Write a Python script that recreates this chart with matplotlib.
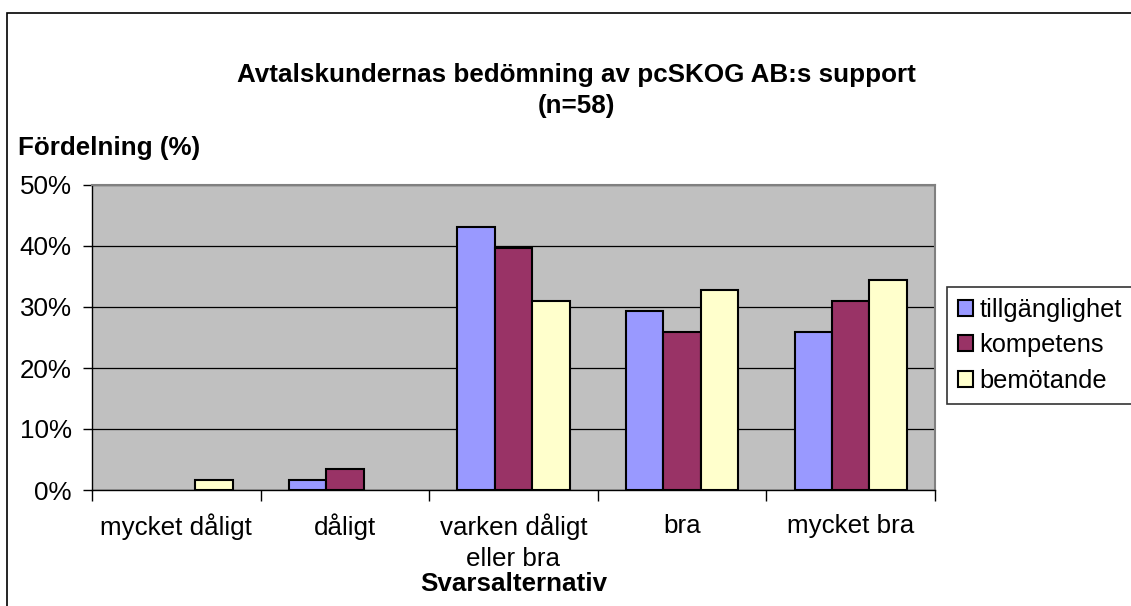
import matplotlib
matplotlib.use("Agg")
import matplotlib.pyplot as plt
import numpy as np
from matplotlib.patches import Rectangle, Patch

plt.rcParams['font.family'] = ['Liberation Sans', 'DejaVu Sans']

categories = ["mycket dåligt", "dåligt", "varken dåligt\neller bra", "bra", "mycket bra"]
series_names = ["tillgänglighet", "kompetens", "bemötande"]
tillganglighet = [0.0, 1.72, 43.10, 29.31, 25.86]
kompetens = [0.0, 3.45, 39.66, 25.86, 31.03]
bemotande = [1.72, 0.0, 31.03, 32.76, 34.48]
yticks = [0, 10, 20, 30, 40, 50]
ytick_labels = ["0%", "10%", "20%", "30%", "40%", "50%"]
colors = ["#9999FF", "#993366", "#FFFFCC"]

W, H = 1131, 606
FS = 18.7
fig = plt.figure(figsize=(W / 100, H / 100), dpi=100)
fig.patch.set_facecolor("white")

# outer chart border
fig.patches.append(Rectangle((7 / W, -0.1), 1.2, (H - 13) / H + 0.1, transform=fig.transFigure,
                             fill=False, edgecolor="black", linewidth=1.2))

ax = fig.add_axes([92 / W, (H - 490) / H, (935 - 92) / W, (490 - 185) / H])
ax.set_facecolor("#C0C0C0")

x = np.arange(len(categories))
bw = 1 / 4.5
handles = []
for i, (vals, c, name) in enumerate(zip([tillganglighet, kompetens, bemotande], colors, series_names)):
    bars = ax.bar(x + (i - 1) * bw, vals, width=bw, color=c, edgecolor="black", linewidth=1.5,
                  zorder=3)
    for b, v in zip(bars, vals):
        if v == 0:
            b.set_visible(False)
    handles.append(Patch(facecolor=c, edgecolor="black", linewidth=1.5, label=name))

ax.set_xlim(-0.5, len(categories) - 0.5)
ax.set_ylim(0, 50)
ax.set_yticks(yticks)
ax.set_yticklabels(ytick_labels, fontsize=FS)
ax.yaxis.grid(True, color="black", linewidth=0.9, zorder=1)
ax.set_axisbelow(True)
ax.set_xticks(x)
ax.set_xticklabels(categories, fontsize=FS, linespacing=1.35)
ax.set_xticks(np.arange(len(categories) + 1) - 0.5, minor=True)
ax.tick_params(axis="x", which="major", length=0, pad=17)
ax.tick_params(axis="x", which="minor", length=8, width=1, color="black")
ax.tick_params(axis="y", length=6.5, width=1, pad=8)
for s in ["top", "right"]:
    ax.spines[s].set_color("#808080")
    ax.spines[s].set_linewidth(1.5)
for s in ["left", "bottom"]:
    ax.spines[s].set_color("black")
    ax.spines[s].set_linewidth(1)

ax.set_xlabel("Svarsalternativ", fontsize=FS, fontweight="bold", labelpad=1)

fig.text(576 / W, 1 - 75 / H, "Avtalskundernas bedömning av pcSKOG AB:s support",
         ha="center", va="center", fontsize=FS, fontweight="bold")
fig.text(576 / W, 1 - 106 / H, "(n=58)", ha="center", va="center", fontsize=FS, fontweight="bold")
fig.text(18 / W, 1 - 148 / H, "Fördelning (%)", ha="left", va="center", fontsize=FS, fontweight="bold")

leg = fig.legend(handles=handles, loc="upper left", bbox_to_anchor=(947 / W, 1 - 287 / H), fontsize=18.3,
                 frameon=True, fancybox=False, shadow=False, edgecolor="black",
                 handlelength=0.6, handleheight=0.6, handletextpad=0.25,
                 borderpad=0.42, labelspacing=0.46, borderaxespad=0)
leg.get_frame().set_linewidth(1.2)

fig.savefig("out.png", dpi=100, facecolor="white")
